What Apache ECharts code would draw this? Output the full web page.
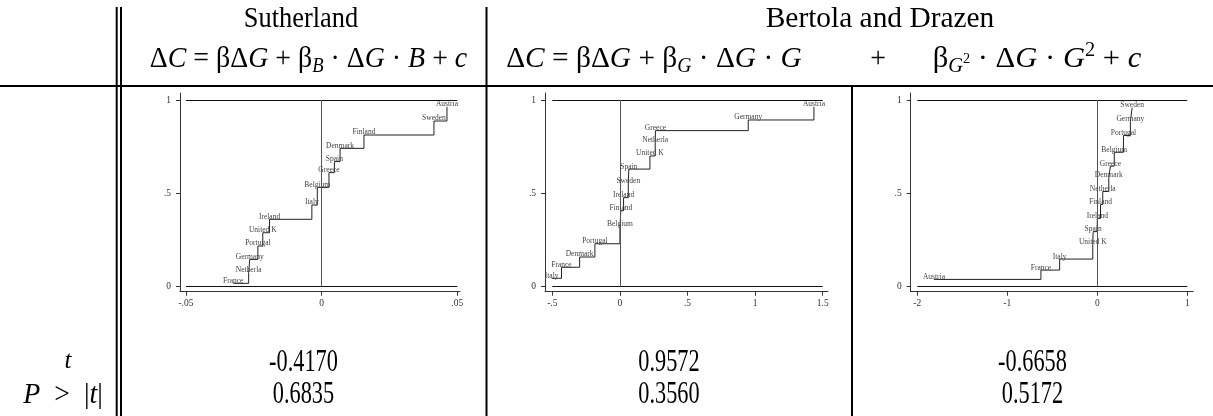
<!DOCTYPE html>
<html>
<head>
<meta charset="utf-8">
<script src="https://cdn.jsdelivr.net/npm/echarts@6/dist/echarts.min.js"></script>
<style>
  html, body { margin: 0; padding: 0; background: #fff; }
  #chart { width: 1213px; height: 416px; }
</style>
</head>
<body>
<div id="chart"></div>
<script>
// Sutherland
const countries1 = ['France', 'Netherla', 'Germany', 'Portugal', 'United K', 'Ireland', 'Italy', 'Belgium', 'Greece', 'Spain', 'Denmark', 'Finland', 'Sweden', 'Austria']
const x1 = [-0.0326, -0.0269, -0.0265, -0.0235, -0.0217, -0.0192, -0.0036, -0.0016, 0.0027, 0.0047, 0.0068, 0.0156, 0.0414, 0.0462]
const y1 = [0.018, 0.075, 0.146, 0.218, 0.289, 0.361, 0.4375, 0.532, 0.611, 0.670, 0.741, 0.8125, 0.8875, 0.964]
// Bertola and Drazen, beta_G
const countries2 = ['Italy', 'France', 'Denmark', 'Portugal', 'Belgium', 'Finland', 'Ireland', 'Sweden', 'Spain', 'United K', 'Netherla', 'Greece', 'Germany', 'Austria']
const x2 = [-0.505, -0.432, -0.298, -0.185, 0.0, 0.007, 0.027, 0.062, 0.066, 0.222, 0.261, 0.263, 0.949, 1.435]
const y2 = [0.045, 0.104, 0.159, 0.230, 0.320, 0.407, 0.477, 0.555, 0.630, 0.700, 0.770, 0.836, 0.893, 0.964]
// Bertola and Drazen, beta_G2
const countries3 = ['Austria', 'France', 'Italy', 'United K', 'Spain', 'Ireland', 'Finland', 'Netherla', 'Denmark', 'Greece', 'Belgium', 'Portugal', 'Germany', 'Sweden']
const x3 = [-1.815, -0.626, -0.418, -0.050, -0.046, 0.0, 0.036, 0.061, 0.128, 0.146, 0.189, 0.291, 0.368, 0.387]
const y3 = [0.039, 0.089, 0.148, 0.227, 0.295, 0.366, 0.44, 0.51, 0.584, 0.646, 0.72, 0.81, 0.884, 0.959]

// axis ticks
const xTicks1 = [-0.05, 0, 0.05]
const xTicks2 = [-0.5, 0, 0.5, 1, 1.5]
const xTicks3 = [-2, -1, 0, 1]
const yTicks = [0, 0.5, 1]

// table rows
const tValues = ['-0.4170', '0.9572', '-0.6658']
const pValues = ['0.6835', '0.3560', '0.5172']

const SERIF = '"Liberation Serif", "DejaVu Serif", serif'

// stata-like number: drop leading zero
function stataNum(v) {
  let s = String(v)
  return s.replace(/^(-?)0\./, '$1.')
}

const panels = [
  { c: countries1, x: x1, y: y1, ticks: xTicks1, min: -0.0522, max: 0.0510, left: 180, right: 753 },
  { c: countries2, x: x2, y: y2, ticks: xTicks2, min: -0.554, max: 1.539, left: 545, right: 385 },
  { c: countries3, x: x3, y: y3, ticks: xTicks3, min: -2.073, max: 1.067, left: 910.7, right: 19.7 },
]

const grids = [], xAxes = [], yAxes = [], series = []
panels.forEach((p, i) => {
  grids.push({ left: p.left, right: p.right, top: 93, bottom: 124.3 })
  xAxes.push({
    type: 'value', gridIndex: i, min: p.min, max: p.max,
    splitLine: { show: false },
    axisLine: { onZero: false, lineStyle: { color: '#333', width: 1 } },
    axisTick: { customValues: p.ticks, length: 4, lineStyle: { color: '#333' } },
    axisLabel: {
      customValues: p.ticks, margin: 7, fontFamily: SERIF, fontSize: 9.5, color: '#333',
      formatter: stataNum
    }
  })
  yAxes.push({
    type: 'value', gridIndex: i, min: -0.0268, max: 1.0375,
    splitLine: { show: false },
    axisLine: { show: true, onZero: false, lineStyle: { color: '#333', width: 1 } },
    axisTick: { show: true, customValues: yTicks, length: 4, lineStyle: { color: '#333' } },
    axisLabel: {
      customValues: yTicks, margin: 9, fontFamily: SERIF, fontSize: 9.5, color: '#333',
      formatter: stataNum
    }
  })
  const lo = p.ticks[0], hi = p.ticks[p.ticks.length - 1]
  series.push({
    type: 'line', xAxisIndex: i, yAxisIndex: i,
    step: 'end',
    symbol: 'circle', symbolSize: 0.1,
    itemStyle: { color: 'rgba(0,0,0,0)' },
    lineStyle: { color: '#222', width: 1 },
    label: {
      show: true, position: 'inside', offset: [0, -2.5],
      fontFamily: SERIF, fontSize: 7.5, color: '#444',
      formatter: (d) => d.name
    },
    data: p.c.map((name, k) => ({ name, value: [p.x[k], p.y[k]] })),
    markLine: {
      silent: true, symbol: 'none', label: { show: false },
      data: [
        [{ coord: [lo, 0], lineStyle: { color: '#111', width: 1.2, type: 'solid' } }, { coord: [hi, 0] }],
        [{ coord: [lo, 1], lineStyle: { color: '#111', width: 1.2, type: 'solid' } }, { coord: [hi, 1] }],
        [{ coord: [0, 0], lineStyle: { color: '#555', width: 1, type: 'solid' } }, { coord: [0, 1] }],
      ]
    },
    z: 3
  })
})

// table rules
const rule = (x1, y1, x2, y2) => ({
  type: 'line', silent: true,
  shape: { x1, y1, x2, y2 },
  style: { stroke: '#000', lineWidth: 2 }
})

const FS = 30
const rich = {
  r: { fontFamily: SERIF, fontSize: FS, lineHeight: 36, color: '#000' },
  i: { fontFamily: SERIF, fontSize: FS, fontStyle: 'italic', lineHeight: 36, color: '#000' },
  sub: { fontFamily: SERIF, fontSize: 20, fontStyle: 'italic', lineHeight: 14, verticalAlign: 'bottom', color: '#000' },
  sup: { fontFamily: SERIF, fontSize: 20, lineHeight: 22, verticalAlign: 'top', color: '#000' },
  ssup: { fontFamily: SERIF, fontSize: 14, lineHeight: 14, verticalAlign: 'middle', color: '#000' },
}
const txt = (x, y, text, size, sx, extra) => ({
  type: 'text', silent: true, x, y, scaleX: sx,
  style: Object.assign({ text, align: 'center', verticalAlign: 'middle', fontFamily: SERIF, fontSize: size, fill: '#000' }, extra || {})
})
const eq = (x, y, text, sx) => ({
  type: 'text', silent: true, x, y, scaleX: sx || 1,
  style: { text, rich, align: 'center', verticalAlign: 'middle', fontFamily: SERIF, fontSize: FS }
})

const graphic = [
  rule(116.7, 7, 116.7, 416),
  rule(121, 7, 121, 416),
  rule(486.5, 7, 486.5, 416),
  rule(852, 86, 852, 416),
  rule(0, 86, 1213, 86),
  txt(301, 19, 'Sutherland', 30, 0.88),
  txt(880, 19, 'Bertola and Drazen', 30, 0.98),
  eq(308.5, 59, '{r|Δ}{i|C}{r| = βΔ}{i|G}{r| + β}{sub|B}{r| · Δ}{i|G}{r| · }{i|B}{r| + }{i|c}', 0.93),
  eq(654, 59, '{r|Δ}{i|C}{r| = βΔ}{i|G}{r| + β}{sub|G}{r| · Δ}{i|G}{r| · }{i|G}', 0.98),
  eq(878, 59, '{r|+}', 0.93),
  eq(1037, 59, '{r|β}{sub|G}{ssup|2}{r| · Δ}{i|G}{r| · }{i|G}{sup|2}{r| + }{i|c}', 1.02),
  txt(68, 361, 't', 25, 1, { fontStyle: 'italic' }),
  eq(63, 395, '{i|P}{r|  >  |}{i|t}{r||}', 0.93),
]
const cols = [303.5, 669, 1032.5]
tValues.forEach((v, k) => graphic.push(txt(cols[k], 363, v, 31, 0.72)))
pValues.forEach((v, k) => graphic.push(txt(cols[k], 395, v, 31, 0.72)))

const myChart = echarts.init(document.getElementById('chart'))
myChart.setOption({
  animation: false,
  grid: grids,
  xAxis: xAxes,
  yAxis: yAxes,
  series,
  graphic
})
</script>
</body>
</html>
